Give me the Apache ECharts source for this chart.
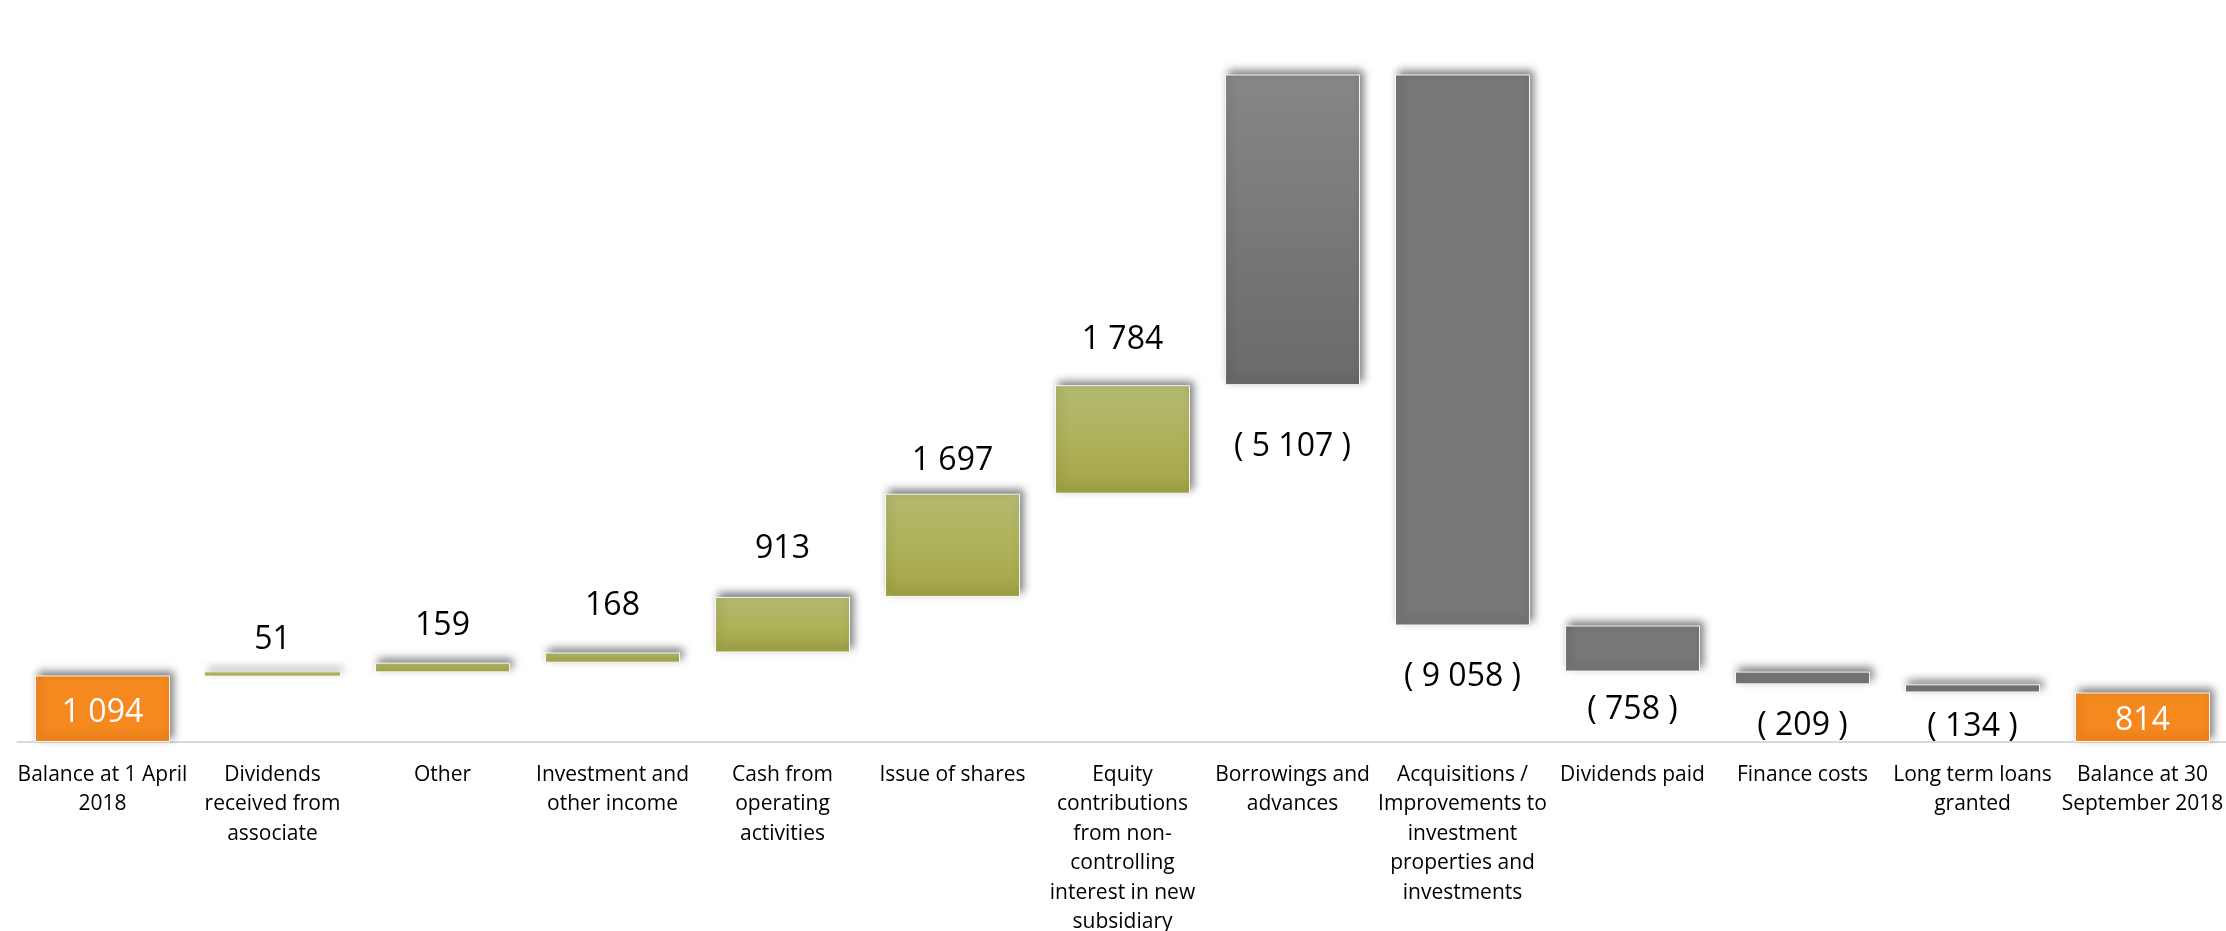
<!DOCTYPE html>
<html>
<head>
<meta charset="utf-8">
<title>Cash movement, April – September 2018</title>
<script src="https://cdn.jsdelivr.net/npm/echarts@6/dist/echarts.min.js"></script>
<style>
  html, body { margin: 0; padding: 0; background: #ffffff; }
  #chart { width: 2226px; height: 931px; }
</style>
</head>
<body>
<div id="chart"></div>
<script>
// Waterfall categories (line breaks follow the wrapped axis labels)
const categories = [
  'Balance at 1 April\n2018',
  'Dividends\nreceived from\nassociate',
  'Other',
  'Investment and\nother income',
  'Cash from\noperating\nactivities',
  'Issue of shares',
  'Equity\ncontributions\nfrom non-\ncontrolling\ninterest in new\nsubsidiary',
  'Borrowings and\nadvances',
  'Acquisitions /\nImprovements to\ninvestment\nproperties and\ninvestments',
  'Dividends paid',
  'Finance costs',
  'Long term loans\ngranted',
  'Balance at 30\nSeptember 2018'
];

// Group of each column: opening/closing balance, green inflows, grey financing items
const itemKinds = [
  'balance',
  'inflow', 'inflow', 'inflow', 'inflow', 'inflow', 'inflow',
  'financing', 'financing', 'financing', 'financing', 'financing',
  'balance'
];

// Balances are levels; every other entry is a signed movement
const amounts = [1094, 51, 159, 168, 913, 1697, 1784, 5107, -9058, -758, -209, -134, 814];

// Distance between each value label and its bar (layout only)
const labelGaps = [0, 20, 25, 35, 36, 21, 33, 42, 31, 18, 22, 14, 0];

function withSpaces(n) {
  return String(Math.abs(n)).replace(/\B(?=(\d{3})+(?!\d))/g, ' ');
}

const barStyles = {
  balance: { color: '#F5881F' },
  inflow: {
    color: {
      type: 'linear', x: 0, y: 0, x2: 0, y2: 1,
      colorStops: [
        { offset: 0, color: '#B4B970' },
        { offset: 0.5, color: '#AEB25A' },
        { offset: 1, color: '#A2A444' }
      ]
    }
  },
  financing: { color: '#77777A' }
};

const edgeAndShadow = {
  borderColor: 'rgba(255,255,255,0.9)',
  borderWidth: 1,
  shadowColor: 'rgba(0,0,0,0.5)',
  shadowBlur: 8,
  shadowOffsetX: 3,
  shadowOffsetY: -4
};

// Build invisible bases and visible segments from the running balance
const baseData = [];
const flowData = [];
let running = 0;
amounts.forEach((amt, i) => {
  const kind = itemKinds[i];
  let base, size;
  if (kind === 'balance') {
    base = 0; size = amt; running = amt;
  } else if (amt >= 0) {
    base = running; size = amt; running += amt;
  } else {
    running += amt; base = running; size = -amt;
  }
  baseData.push(base);

  const style = Object.assign({}, edgeAndShadow, barStyles[kind]);
  // The borrowings column carries a darker vertical gradient
  if (i === 7) {
    style.color = {
      type: 'linear', x: 0, y: 0, x2: 0, y2: 1,
      colorStops: [
        { offset: 0, color: '#868789' },
        { offset: 1, color: '#6A6A6C' }
      ]
    };
  }
  // Very thin bars keep their fill visible instead of a white edge
  if (size < 100) {
    style.borderWidth = 0;
  }

  let label;
  if (kind === 'balance') {
    label = { position: 'inside', color: '#ffffff', formatter: withSpaces(amt) };
  } else if (kind === 'inflow') {
    label = { position: 'top', distance: labelGaps[i], color: '#000000', formatter: withSpaces(amt) };
  } else {
    label = { position: 'bottom', distance: labelGaps[i], color: '#000000', formatter: '( ' + withSpaces(amt) + ' )' };
  }

  flowData.push({ value: size, itemStyle: style, label: label });
});

const chart = echarts.init(document.getElementById('chart'), null, { renderer: 'canvas' });

chart.setOption({
  animation: false,
  backgroundColor: '#ffffff',
  grid: {
    left: 17.5, width: 2210, top: 12, bottom: 189,
    containLabel: false,
    outerBoundsMode: 'none'
  },
  xAxis: {
    type: 'category',
    data: categories,
    axisTick: { show: false },
    axisLine: { show: true, lineStyle: { color: '#D9D9D9', width: 2 } },
    axisLabel: {
      interval: 0,
      margin: 18,
      color: '#000000',
      fontFamily: 'Open Sans',
      fontSize: 21,
      lineHeight: 29.5,
      align: 'center'
    }
  },
  yAxis: {
    type: 'value',
    min: 0,
    max: 12000,
    show: false,
    splitLine: { show: false }
  },
  series: [
    {
      name: 'base',
      type: 'bar',
      stack: 'waterfall',
      barWidth: 135,
      silent: true,
      itemStyle: { color: 'rgba(0,0,0,0)' },
      data: baseData
    },
    {
      name: 'movement',
      type: 'bar',
      stack: 'waterfall',
      barWidth: 135,
      label: {
        show: true,
        fontFamily: 'Open Sans',
        fontSize: 32,
        lineHeight: 32,
        offset: [0, 4]
      },
      data: flowData
    }
  ]
});
</script>
</body>
</html>
